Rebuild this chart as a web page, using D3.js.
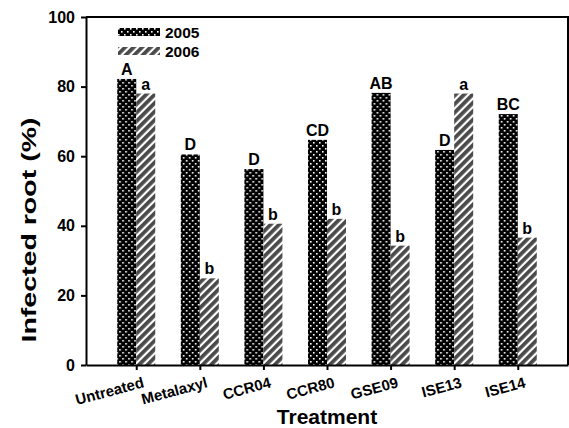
<!DOCTYPE html>
<html>
<head>
<meta charset="utf-8">
<script src="https://cdn.jsdelivr.net/npm/d3@7"></script>
<style>
  body { margin: 0; background: #fff; }
  text { font-family: "Liberation Sans", Arial, sans-serif; font-weight: bold; }
</style>
</head>
<body>
<div id="chart"></div>
<script>
var treatments = ["Untreated", "Metalaxyl", "CCR04", "CCR80", "GSE09", "ISE13", "ISE14"];
var years = ["2005", "2006"];
var values2005 = [82.2, 60.5, 56.3, 64.7, 78.2, 61.8, 72.1];
var values2006 = [78.0, 24.9, 40.6, 42.0, 34.3, 78.0, 36.6];
var letters2005 = ["A", "D", "D", "CD", "AB", "D", "BC"];
var letters2006 = ["a", "b", "b", "b", "b", "a", "b"];
var yTicks = [0, 20, 40, 60, 80, 100];

var W = 569, H = 428;
var plotLeft = 86, plotRight = 568, plotTop = 17, plotBottom = 365;

var svg = d3.select("#chart").append("svg")
    .attr("width", W)
    .attr("height", H);

// patterns
var defs = svg.append("defs");
var dots = defs.append("pattern")
    .attr("id", "dots")
    .attr("patternUnits", "userSpaceOnUse")
    .attr("width", 6).attr("height", 6);
dots.append("rect").attr("width", 6).attr("height", 6).attr("fill", "#000");
dots.append("rect").attr("x", 1).attr("y", 1).attr("width", 1.6).attr("height", 1.6).attr("fill", "#fff");
dots.append("rect").attr("x", 4).attr("y", 4).attr("width", 1.6).attr("height", 1.6).attr("fill", "#fff");

var stripes = defs.append("pattern")
    .attr("id", "stripes")
    .attr("patternUnits", "userSpaceOnUse")
    .attr("width", 6).attr("height", 6)
    .attr("patternTransform", "rotate(45)");
stripes.append("rect").attr("width", 6).attr("height", 6).attr("fill", "#fff");
stripes.append("rect").attr("width", 3.8).attr("height", 6).attr("fill", "#4a4a4a");

var fills = { "2005": "url(#dots)", "2006": "url(#stripes)" };

var x0 = d3.scalePoint()
    .domain(treatments)
    .range([plotLeft, plotRight])
    .padding(0.79);

var x1 = d3.scaleBand()
    .domain(years)
    .range([-19, 19]);

var y = d3.scaleLinear()
    .domain([0, 100])
    .range([plotBottom, plotTop]);

var data = treatments.map(function(t, i) {
    return {
        treatment: t,
        bars: [
            { year: "2005", value: values2005[i], letter: letters2005[i] },
            { year: "2006", value: values2006[i], letter: letters2006[i] }
        ]
    };
});

// bars
var groups = svg.append("g").selectAll("g")
    .data(data)
    .enter()
    .append("g")
    .attr("transform", function(d) { return "translate(" + x0(d.treatment) + ",0)"; });

groups.selectAll("rect")
    .data(function(d) { return d.bars; })
    .enter()
    .append("rect")
    .attr("x", function(d) { return x1(d.year); })
    .attr("y", function(d) { return y(d.value); })
    .attr("width", x1.bandwidth())
    .attr("height", function(d) { return y(0) - y(d.value); })
    .attr("fill", function(d) { return fills[d.year]; });

groups.selectAll("text")
    .data(function(d) { return d.bars; })
    .enter()
    .append("text")
    .attr("x", function(d) { return x1(d.year) + x1.bandwidth() / 2; })
    .attr("y", function(d) { return y(d.value) - 4; })
    .attr("text-anchor", "middle")
    .attr("font-size", "16px")
    .text(function(d) { return d.letter; });

// frame
svg.append("path")
    .attr("d", "M" + plotLeft + "," + plotTop + "H" + plotRight + "V" + plotBottom)
    .attr("fill", "none")
    .attr("stroke", "#000")
    .attr("stroke-width", 2);

// y axis
var yAxis = svg.append("g")
    .attr("transform", "translate(" + plotLeft + ",0)")
    .call(d3.axisLeft(y).tickValues(yTicks).tickSize(5).tickSizeOuter(0).tickPadding(6));
yAxis.select(".domain").attr("stroke-width", 2);
yAxis.selectAll(".tick line").attr("stroke-width", 2);
yAxis.selectAll(".tick text").attr("font-size", "16px").attr("fill", "#000")
    .attr("font-family", "Liberation Sans, Arial, sans-serif");

// x axis
var xAxis = svg.append("g")
    .attr("transform", "translate(0," + plotBottom + ")")
    .call(d3.axisBottom(x0).tickSize(5).tickSizeOuter(0));
xAxis.select(".domain").attr("stroke-width", 2);
xAxis.selectAll(".tick line").attr("stroke-width", 2);
xAxis.selectAll(".tick text")
    .attr("font-size", "15px")
    .attr("fill", "#000")
    .attr("font-family", "Liberation Sans, Arial, sans-serif")
    .attr("text-anchor", "end")
    .attr("dy", null)
    .attr("y", null)
    .attr("transform", "translate(8,22) rotate(-15)");

// axis titles
svg.append("text")
    .attr("x", (plotLeft + plotRight) / 2)
    .attr("y", 424)
    .attr("text-anchor", "middle")
    .attr("font-size", "21px")
    .text("Treatment");

svg.append("text")
    .attr("transform", "translate(36,230) rotate(-90)")
    .attr("text-anchor", "middle")
    .attr("font-size", "20px")
    .attr("textLength", 225)
    .attr("lengthAdjust", "spacingAndGlyphs")
    .text("Infected root (%)");

// legend
var legend = svg.append("g");
years.forEach(function(yr, i) {
    legend.append("rect")
        .attr("x", 118)
        .attr("y", 28 + i * 19)
        .attr("width", 42)
        .attr("height", 8)
        .attr("fill", fills[yr]);
    legend.append("text")
        .attr("x", 165)
        .attr("y", 38 + i * 19)
        .attr("font-size", "15.5px")
        .text(yr);
});
</script>
</body>
</html>
